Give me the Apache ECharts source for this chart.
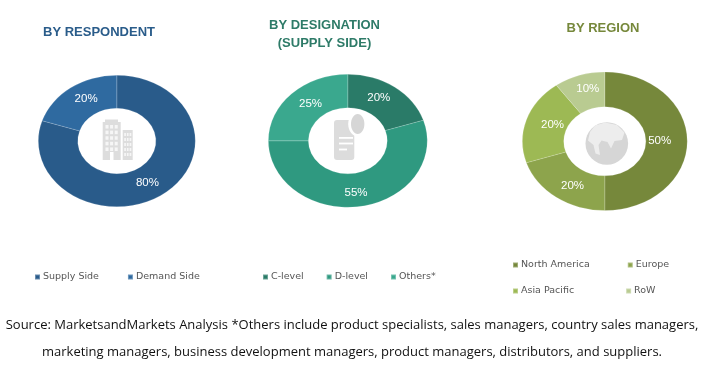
<!DOCTYPE html>
<html>
<head>
<meta charset="utf-8">
<style>html,body{margin:0;padding:0;background:#fff}#c{width:702px;height:365px}</style>
<script src="https://cdn.jsdelivr.net/npm/echarts@6/dist/echarts.min.js"></script>
</head>
<body>
<div id="c"></div>
<script>
var respondentNames = ['Supply Side', 'Demand Side'];
var respondentValues = [80, 20];
var designationNames = ['C-level', 'D-level', 'Others*'];
var designationValues = [20, 55, 25];
var regionNames = ['North America', 'Europe', 'Asia Pacific', 'RoW'];
var regionValues = [50, 20, 20, 10];

var respondentColors = ['#295B8A', '#2F6AA0'];
var designationColors = ['#2A7B68', '#2F9980', '#3AA88E'];
var regionColors = ['#76883B', '#8DA44C', '#9DB954', '#B9CB91'];

var sourceLine1 = 'Source: MarketsandMarkets Analysis *Others include product specialists, sales managers, country sales managers,';
var sourceLine2 = 'marketing managers, business development managers, product managers, distributors, and suppliers.';

function toData(names, values) {
  return names.map(function (n, i) { return { name: n, value: values[i] }; });
}
function donut(name, names, values, colors, cx, cy, rIn, rOut) {
  return {
    type: 'pie', name: name, center: [cx, cy], radius: [rIn, rOut], startAngle: 90, clockwise: true,
    color: colors, data: toData(names, values), avoidLabelOverlap: false, silent: true,
    itemStyle: { borderColor: 'rgba(255,255,255,0.3)', borderWidth: 0.5 },
    label: { show: true, position: 'inside', formatter: '{c}%', color: '#fff', fontSize: 11.5, fontFamily: 'Liberation Sans' },
    labelLine: { show: false }
  };
}
function legendRow(names, left, top, gap) {
  return {
    data: names, left: left, top: top, padding: 0, itemGap: gap, itemWidth: 5, itemHeight: 5, icon: 'rect', selectedMode: false,
    textStyle: { fontSize: 9.5, color: '#555', fontFamily: 'DejaVu Sans', padding: [0, 0, 0, -2] }
  };
}
function heading(text, x, y, color) {
  return { text: text, left: x, top: y, padding: 0, textAlign: 'center',
    textStyle: { fontSize: 13, fontWeight: 'bold', color: color, lineHeight: 17.5, fontFamily: 'Liberation Sans' } };
}
function note(text, x, y) {
  return { text: text, left: x, top: y, padding: 0, textAlign: 'center',
    textStyle: { fontSize: 13, fontWeight: 'normal', color: '#111', fontFamily: 'Open Sans' } };
}

// centre icons
var grey = '#DDDDDD';
var icons = [];
function rect(x, y, w, h, fill, r) { icons.push({ type: 'rect', silent: true, shape: { x: x, y: y, width: w, height: h, r: r || 0 }, style: { fill: fill } }); }
rect(102.7, 122, 18, 38, grey); rect(105, 119.5, 13, 3, grey); rect(122.7, 130, 10, 30, grey);
for (var a = 0; a < 5; a++) {
  for (var b = 0; b < 3; b++) rect(105.5 + b * 4.6, 125 + a * 5.6, 3, 3.6, '#F6F6F6');
  for (var d = 0; d < 3; d++) rect(124.2 + d * 2.7, 133 + a * 5, 1.7, 3, '#F6F6F6');
}
rect(110, 152, 3.5, 8, '#fff');
rect(334, 120, 20.3, 40, '#DCDCDC', 3);
icons.push({ type: 'ellipse', silent: true, shape: { cx: 357.7, cy: 124, rx: 9.5, ry: 12.5 }, style: { fill: '#fff' } });
icons.push({ type: 'ellipse', silent: true, shape: { cx: 357.7, cy: 124, rx: 6.7, ry: 10 }, style: { fill: '#D6D6D6' } });
rect(339, 137, 14, 1.8, '#fff'); rect(339, 142.6, 14, 1.8, '#fff'); rect(339, 148.6, 8, 1.8, '#fff');
icons.push({ type: 'circle', silent: true, shape: { cx: 606.8, cy: 143.5, r: 21.3 }, style: { fill: '#D6D6D6' } });
icons.push({ type: 'polygon', silent: true, shape: { points: [[590, 132], [595, 125.5], [605, 122.5], [617, 125], [624.5, 132.5], [622, 140], [614.5, 141], [611, 148.5], [607.5, 142], [601.5, 140.5], [598.5, 145], [600, 155], [595.5, 153.5], [593.5, 145], [588, 140.5]] }, style: { fill: '#EDEDED' } });

var chart = echarts.init(document.getElementById('c'), null, { renderer: 'canvas' });
chart.setOption({
  animation: false,
  backgroundColor: '#fff',
  title: [
    heading('BY RESPONDENT', 99, 24, '#2A5C8A'),
    heading('BY DESIGNATION\n(SUPPLY SIDE)', 324.5, 17, '#2E7B68'),
    heading('BY REGION', 603, 20, '#76883B'),
    note(sourceLine1, 352, 319),
    note(sourceLine2, 352, 346)
  ],
  legend: [
    legendRow(respondentNames, 34, 272, 28),
    legendRow(designationNames, 262, 272, 22),
    legendRow(regionNames.slice(0, 2), 512, 260, 37),
    legendRow(regionNames.slice(2), 512, 286, 51)
  ],
  graphic: { elements: icons },
  series: [
    donut('By Respondent', respondentNames, respondentValues, respondentColors, 116.8, 141, 32.7, 65.7),
    donut('By Designation', designationNames, designationValues, designationColors, 347.8, 140.8, 33, 66.5),
    donut('By Region', regionNames, regionValues, regionColors, 604.8, 141.3, 34.5, 69.3)
  ]
});

// The source donuts are drawn stretched horizontally: widen each pie view about its own centre.
var stretch = [[1.195, 116.8], [1.195, 347.8], [1.19, 604.8]];
chart._chartsViews.forEach(function (view, i) {
  view.group.originX = stretch[i][1];
  view.group.scaleX = stretch[i][0];
  view.group.markRedraw();
});
chart.getZr().refresh();
</script>
</body>
</html>
